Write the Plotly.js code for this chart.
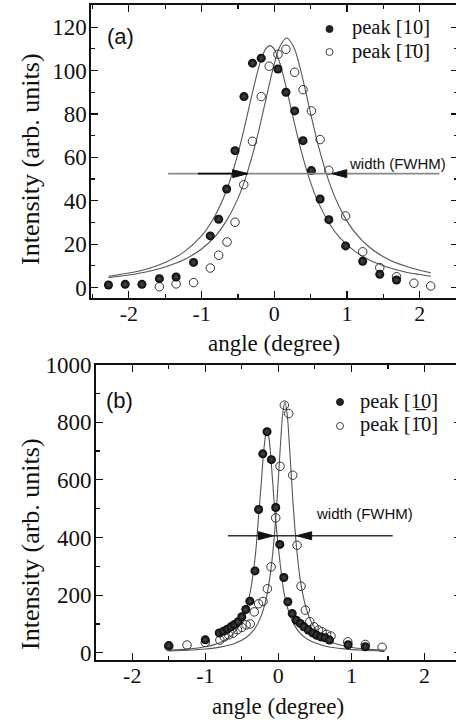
<!DOCTYPE html>
<html><head><meta charset="utf-8">
<script src="https://cdn.plot.ly/plotly-3.0.1.min.js"></script>
<style>html,body{margin:0;padding:0;overflow:hidden;background:#fff}#chart{width:462px;height:721px}</style>
</head><body><div id="chart"></div>
<script>
// ---------- Panel (a) data ----------
const a_peak10_x = [-2.28,-2.05,-1.82,-1.58,-1.35,-1.11,-0.88,-0.765,-0.655,-0.54,-0.417,-0.30,-0.18,0.05,0.16,0.28,0.395,0.51,0.63,0.75,0.98,1.215,1.45,1.68];
const a_peak10_y = [1.2,1.5,1.5,4.1,4.9,11.6,23.8,31.5,45.4,63.1,88,103.4,105.7,100.7,90,81.4,67.7,53.9,40.8,31.3,19.2,12.1,6.1,3.5];
const a_peakBar_x = [-1.58,-1.35,-1.11,-0.88,-0.765,-0.65,-0.54,-0.42,-0.30,-0.18,-0.07,0.05,0.16,0.28,0.395,0.51,0.63,0.75,0.98,1.215,1.45,1.68,1.92,2.15];
const a_peakBar_y = [0.4,1.7,2.3,9.0,14.9,21.0,30.1,47.4,67.4,88,102,107.5,109.8,99.2,91.2,81.4,68.2,54,33,16.5,9.2,5.0,2.0,0.7];
const a_fit10_x = [-2.28,-2.0,-1.75,-1.5,-1.25,-1.0,-0.85,-0.7,-0.6,-0.5,-0.4,-0.3,-0.2,-0.12,-0.06,0.0,0.08,0.18,0.28,0.38,0.48,0.6,0.75,0.9,1.1,1.3,1.55,1.8,2.0,2.15];
const a_fit10_y = [5.2,6.7,8.6,11.6,16.2,23.8,31.0,41.2,50.3,61.7,75.3,89.9,103.1,109.9,111.5,109.9,103.1,89.9,75.3,61.7,50.3,39.6,29.9,23.0,16.9,12.8,9.5,7.2,6.0,5.2];
const a_fitBar_x = [-2.28,-2.0,-1.75,-1.5,-1.25,-1.0,-0.8,-0.65,-0.5,-0.4,-0.3,-0.2,-0.1,-0.02,0.07,0.17,0.27,0.36,0.44,0.54,0.64,0.74,0.84,0.95,1.1,1.3,1.55,1.8,2.0,2.15];
const a_fitBar_y = [4.6,5.8,7.3,9.5,12.7,17.8,24.1,31.2,41.1,50.0,61.1,74.3,89.0,100.5,110.6,115,110.6,100.5,89.0,74.3,61.1,50.0,41.1,33.5,25.8,18.8,13.3,9.9,8.0,6.9];
const a_fwhm_level = 52.5;
const a_fwhm_line = [-1.46, 2.27];
const a_fwhm_tail = [-1.05, -0.366];
const a_fwhm_tips = [-0.366, 0.79];

// ---------- Panel (b) data ----------
const b_peak10_x = [-1.5,-1.0,-0.81,-0.75,-0.70,-0.65,-0.60,-0.55,-0.50,-0.445,-0.39,-0.32,-0.27,-0.213,-0.155,-0.096,-0.036,0.02,0.075,0.13,0.19,0.245,0.30,0.35,0.41,0.47,0.525,0.58,0.64,0.70,0.955,1.19];
const b_peak10_y = [25,45,69,75,82,90,98,108,125,150,179,284,497,690,767,670,504,376,261,177,136,113,102,90,79,69,61,55,52,44,28,21];
const b_peakBar_x = [-1.5,-1.25,-1.0,-0.80,-0.74,-0.68,-0.62,-0.56,-0.50,-0.44,-0.385,-0.33,-0.27,-0.21,-0.15,-0.10,-0.036,0.023,0.082,0.142,0.197,0.256,0.31,0.37,0.43,0.49,0.55,0.60,0.66,0.72,0.95,1.19,1.42];
const b_peakBar_y = [22,27,36,44,55,62,68,80,88,97,100,142,170,178,222,298,468,647,859,830,616,373,231,148,108,90,79,73,64,58,38,29,19];
const b_fit10_x = [-1.5,-1.25,-1.0,-0.8,-0.65,-0.5,-0.42,-0.36,-0.31,-0.27,-0.23,-0.2,-0.17,-0.155,-0.13,-0.1,-0.06,-0.02,0.02,0.08,0.15,0.22,0.32,0.45,0.65,0.9,1.15,1.45];
const b_fit10_y = [8.4,12.6,20.9,35.2,57.9,110,170,248,350,475,602,701,763,772,748,670,531,415,320,204,136,96,62,40,23,13.5,8.9,5.9];
const b_fitBar_x = [-1.5,-1.25,-1.0,-0.8,-0.6,-0.45,-0.33,-0.24,-0.16,-0.1,-0.05,-0.01,0.03,0.06,0.09,0.12,0.16,0.2,0.25,0.3,0.38,0.48,0.6,0.75,0.95,1.2,1.45];
const b_fitBar_y = [6.2,8.7,13.1,19.6,32.1,51.2,81.5,124.7,196,292,419,562,727,829,870,829,686,523,362,254,155,93,57,34.9,20.9,12.7,8.5];
const b_fwhm_level = 406;
const b_fwhm_line = [-0.69, 1.565];
const b_fwhm_tips = [-0.068, 0.25];

// ---------- Tick labels / texts ----------
const xTickVals = [-2,-1,0,1,2];
const xTickText = ['-2','-1','0','1','2'];
const legendText10 = 'peak [10]';
const legendTextBar = 'peak [1\u03040]';
const legendText10b = 'peak [1\u03320]';

// ---------- helpers (layout in pixels) ----------
const W = 462, H = 721;
const px = v => v / W;
const py = v => 1 - v / H;
const SERIF = 'Liberation Serif';
const SANS = 'Liberation Sans';
const INK = '#111';

const filledMarker = {symbol:'circle', size:9, color:'#050505', gradient:{type:'radial', color:'#4a4a4a'}, line:{width:0}};
const openMarker = {symbol:'circle-open', size:8.5, color:'#333', line:{width:1, color:'#333'}};
const fitLine = {color:'#555', width:1.1, shape:'spline', smoothing:0.8};

const traces = [
  {x:a_fit10_x, y:a_fit10_y, mode:'lines', line:fitLine, xaxis:'x', yaxis:'y', showlegend:false, hoverinfo:'skip'},
  {x:a_fitBar_x, y:a_fitBar_y, mode:'lines', line:fitLine, xaxis:'x', yaxis:'y', showlegend:false, hoverinfo:'skip'},
  {x:a_peakBar_x, y:a_peakBar_y, mode:'markers', marker:openMarker, xaxis:'x', yaxis:'y', name:legendTextBar, showlegend:false},
  {x:a_peak10_x, y:a_peak10_y, mode:'markers', marker:filledMarker, xaxis:'x', yaxis:'y', name:legendText10, showlegend:false},
  {x:b_fit10_x, y:b_fit10_y, mode:'lines', line:fitLine, xaxis:'x2', yaxis:'y2', showlegend:false, hoverinfo:'skip'},
  {x:b_fitBar_x, y:b_fitBar_y, mode:'lines', line:fitLine, xaxis:'x2', yaxis:'y2', showlegend:false, hoverinfo:'skip'},
  {x:b_peakBar_x, y:b_peakBar_y, mode:'markers', marker:openMarker, xaxis:'x2', yaxis:'y2', name:legendTextBar, showlegend:false},
  {x:b_peak10_x, y:b_peak10_y, mode:'markers', marker:filledMarker, xaxis:'x2', yaxis:'y2', name:legendText10b, showlegend:false}
];

function xAxis(domain, range, anchor){
  return {domain, range, anchor, tickvals:xTickVals, ticktext:xTickText,
    ticks:'inside', ticklen:7, tickwidth:1.2, tickcolor:INK, ticklabelstandoff:-5,
    minor:{ticks:'inside', ticklen:4, dtick:0.5, tick0:0, tickcolor:INK, tickwidth:1.2},
    showline:true, linewidth:1.6, linecolor:INK, mirror:'ticks',
    zeroline:false, showgrid:false, tickfont:{family:SERIF, size:22, color:INK}};
}
function yAxis(domain, range, anchor, dtick){
  return {domain, range, anchor, dtick, tick0:0, ticklabelstandoff:-2,
    ticks:'inside', ticklen:7, tickwidth:1.2, tickcolor:INK,
    minor:{ticks:'inside', ticklen:4, dtick:dtick/2, tick0:0, tickcolor:INK, tickwidth:1.2},
    showline:true, linewidth:1.6, linecolor:INK, mirror:'ticks',
    zeroline:false, showgrid:false, tickfont:{family:SERIF, size:23, color:INK}};
}

function arrowHead(xref, yref, tip, level, dir, color){
  const L = 15*dir, h = 4;
  return {type:'path', xref, yref, xsizemode:'pixel', ysizemode:'pixel', xanchor:tip, yanchor:level,
    path:`M0,0 L${-L},${h} L${-L},${-h} Z`, fillcolor:color, line:{color:color, width:1}};
}

const shapes = [
  {type:'line', xref:'x', yref:'y', x0:a_fwhm_line[0], x1:a_fwhm_line[1], y0:a_fwhm_level, y1:a_fwhm_level, line:{color:'#888', width:1.6}},
  {type:'line', xref:'x', yref:'y', x0:a_fwhm_tail[0], x1:a_fwhm_tail[1], y0:a_fwhm_level, y1:a_fwhm_level, line:{color:'#111', width:1.6}},
  arrowHead('x','y', a_fwhm_tips[0], a_fwhm_level, 1, '#111'),
  arrowHead('x','y', a_fwhm_tips[1], a_fwhm_level, -1, '#111'),
  {type:'line', xref:'x2', yref:'y2', x0:b_fwhm_line[0], x1:b_fwhm_line[1], y0:b_fwhm_level, y1:b_fwhm_level, line:{color:'#333', width:1.4}},
  arrowHead('x2','y2', b_fwhm_tips[0], b_fwhm_level, 1, '#111'),
  arrowHead('x2','y2', b_fwhm_tips[1], b_fwhm_level, -1, '#111'),
  {type:'circle', xref:'paper', yref:'paper', xsizemode:'pixel', ysizemode:'pixel', xanchor:px(329.5), yanchor:py(29), x0:-3.5, x1:3.5, y0:-3.5, y1:3.5, fillcolor:'#222', line:{color:'#222', width:1}},
  {type:'circle', xref:'paper', yref:'paper', xsizemode:'pixel', ysizemode:'pixel', xanchor:px(329.5), yanchor:py(52), x0:-3.5, x1:3.5, y0:-3.5, y1:3.5, fillcolor:'rgba(0,0,0,0)', line:{color:'#444', width:1}},
  {type:'circle', xref:'paper', yref:'paper', xsizemode:'pixel', ysizemode:'pixel', xanchor:px(340), yanchor:py(402), x0:-3.5, x1:3.5, y0:-3.5, y1:3.5, fillcolor:'#222', line:{color:'#222', width:1}},
  {type:'circle', xref:'paper', yref:'paper', xsizemode:'pixel', ysizemode:'pixel', xanchor:px(340), yanchor:py(426), x0:-3.5, x1:3.5, y0:-3.5, y1:3.5, fillcolor:'rgba(0,0,0,0)', line:{color:'#444', width:1}}
];

function ann(text, x, y, size, family, opts){
  return Object.assign({text, xref:'paper', yref:'paper', x:px(x), y:py(y), showarrow:false,
    font:{family, size, color:INK}, xanchor:'center', yanchor:'middle', borderpad:0}, opts||{});
}

const annotations = [
  ann('(a)', 106, 37, 22, SANS, {xanchor:'left'}),
  ann('(b)', 105, 400, 22, SANS, {xanchor:'left'}),
  ann('width (FWHM)', 397.5, 163, 15, SANS),
  ann('width (FWHM)', 364, 513.5, 15, SANS),
  ann(legendText10, 350.5, 28, 20.5, SERIF, {xanchor:'left'}),
  ann(legendTextBar, 350.5, 52, 20.5, SERIF, {xanchor:'left'}),
  ann(legendText10b, 359, 401, 20.5, SERIF, {xanchor:'left'}),
  ann(legendTextBar, 359, 425, 20.5, SERIF, {xanchor:'left'}),
  ann('Intensity (arb. units)', 30, 159, 26, SERIF, {textangle:-90}),
  ann('Intensity (arb. units)', 30, 544, 26, SERIF, {textangle:-90}),
  ann('angle (degree)', 274, 343, 23, SERIF),
  ann('angle (degree)', 278, 706, 23, SERIF)
];

const layout = {
  width:W, height:H, margin:{l:0, r:0, t:0, b:0},
  paper_bgcolor:'#fff', plot_bgcolor:'rgba(0,0,0,0)', showlegend:false,
  xaxis: xAxis([px(91), px(457.6)], [-2.52, 2.52], 'y'),
  yaxis: yAxis([py(298), py(5)], [-4.8, 130.2], 'x', 20),
  xaxis2: xAxis([px(95.7), px(461)], [-2.5, 2.5], 'y2'),
  yaxis2: yAxis([py(660), py(364.5)], [-25, 1000], 'x2', 200),
  shapes, annotations
};

Plotly.newPlot('chart', traces, layout, {staticPlot:true, displayModeBar:false});
</script></body></html>
